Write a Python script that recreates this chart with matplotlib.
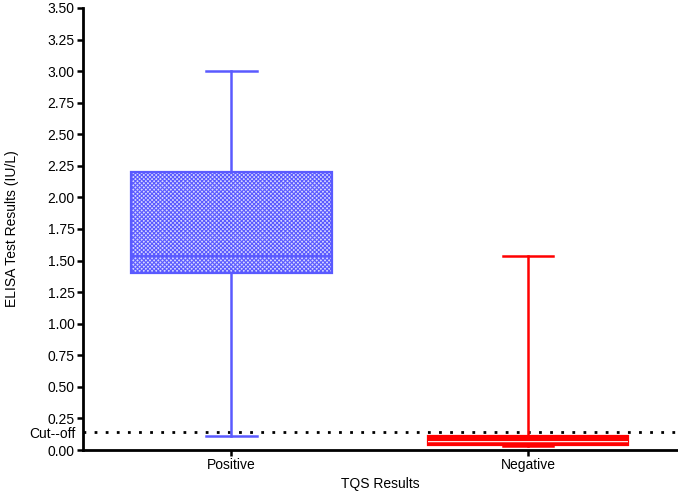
import matplotlib
matplotlib.use("Agg")
import matplotlib.pyplot as plt
import matplotlib.patches as mpatches
import numpy as np

plt.rcParams['font.family'] = ['Liberation Sans', 'DejaVu Sans']
plt.rcParams['hatch.linewidth'] = 0.8

categories = ["Positive", "Negative"]
whisker_low = [0.11, 0.03]
q1 = [1.40, 0.04]
median = [1.54, 0.06]
q3 = [2.20, 0.11]
whisker_high = [3.00, 1.54]
colors = ["#5a5aff", "#ff0000"]
cutoff = 0.14
yticks = [0.0, 0.25, 0.5, 0.75, 1.0, 1.25, 1.5, 1.75, 2.0, 2.25, 2.5, 2.75, 3.0, 3.25, 3.5]

fig = plt.figure(figsize=(6.78, 4.95), dpi=100)
ax = fig.add_axes([0.1224, 0.0909, 0.8756, 0.893])

stats = []
for i, c in enumerate(categories):
    stats.append(dict(label=c, whislo=whisker_low[i], q1=q1[i], med=median[i],
                      q3=q3[i], whishi=whisker_high[i], fliers=[]))

positions = np.arange(1, len(categories) + 1)
bp = ax.bxp(stats, positions=positions, widths=0.675, patch_artist=True,
            showfliers=False, capwidths=0.17)

for i, col in enumerate(colors):
    box = bp['boxes'][i]
    box.set_linewidth(1.6)
    if i == 0:
        box.set_facecolor('#d6d6ff')
        box.set_edgecolor(col)
        box.set_hatch('xxxxxxxx')
    else:
        box.set_facecolor(col)
        box.set_edgecolor(col)
    for key in ['whiskers', 'caps']:
        for ln in bp[key][2 * i:2 * i + 2]:
            ln.set_color(col)
            ln.set_linewidth(1.8)
    bp['medians'][i].set_color(col)
    bp['medians'][i].set_linewidth(1.6)

# white dashed pattern inside the red box
red = bp['boxes'][1]
overlay = mpatches.PathPatch(red.get_path(), facecolor='none', edgecolor='white',
                             hatch='-', linewidth=0, zorder=red.get_zorder() + 0.1,
                             transform=red.get_transform())
ax.add_patch(overlay)

ax.axhline(cutoff, color='black', linestyle=(0, (1, 3)), linewidth=2, zorder=1)

ax.set_xlim(0.5, 2.5)
ax.set_ylim(0, 3.5)
ax.set_yticks(yticks)
ax.set_yticklabels([f"{v:.2f}" for v in yticks])
ax.set_yticks([cutoff], minor=True)
ax.set_yticklabels(["Cut--off"], minor=True)
ax.tick_params(axis='y', which='minor', length=0, pad=5, labelsize=10)
ax.set_xticks(positions)
ax.set_xticklabels(categories)
ax.tick_params(axis='both', which='major', direction='out', length=4, width=1.8,
               labelsize=10, pad=2)

for s in ['top', 'right']:
    ax.spines[s].set_visible(False)
for s in ['left', 'bottom']:
    ax.spines[s].set_linewidth(2)

ax.set_ylabel("ELISA Test Results (IU/L)", fontsize=10, labelpad=8)
ax.set_xlabel("TQS Results", fontsize=10, labelpad=3)

fig.savefig("out.png", dpi=100)
